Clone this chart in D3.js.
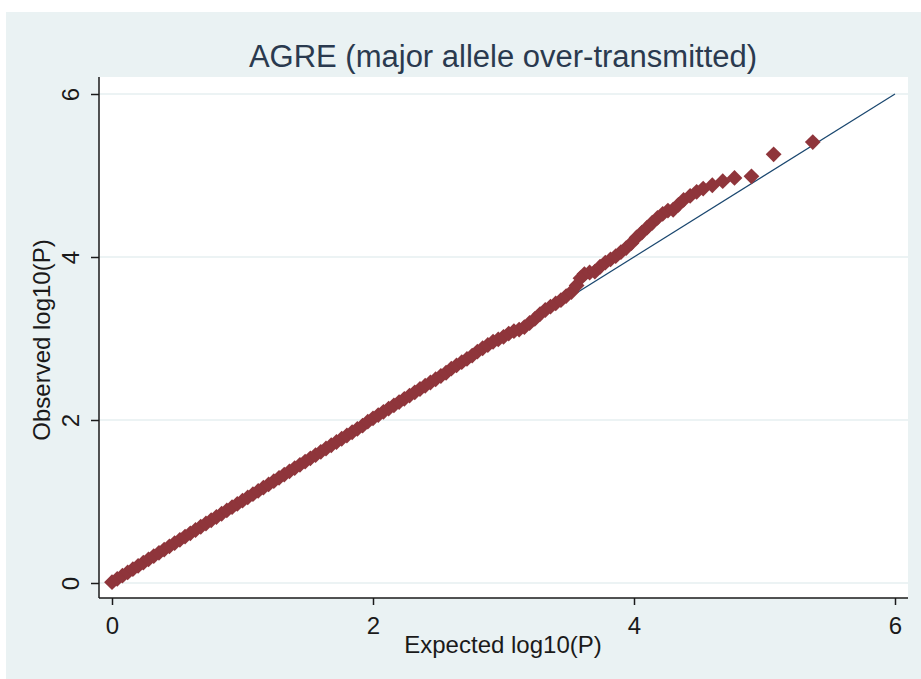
<!DOCTYPE html>
<html>
<head>
<meta charset="utf-8">
<script src="https://cdn.jsdelivr.net/npm/d3@7"></script>
<style>
  body { margin: 0; background: #fff; }
  text { font-family: "Liberation Sans", Arial, sans-serif; }
</style>
</head>
<body>
<svg id="chart" width="921" height="679"></svg>
<script>
// QQ values: expected vs observed -log10(P)
const expected = [
  0.00,0.04,0.08,0.12,0.16,0.20,0.24,0.28,0.32,0.36,
  0.40,0.44,0.48,0.52,0.56,0.60,0.64,0.68,0.72,0.76,
  0.80,0.84,0.88,0.92,0.96,1.00,1.04,1.08,1.12,1.16,
  1.20,1.24,1.28,1.32,1.36,1.40,1.44,1.48,1.52,1.56,
  1.60,1.64,1.68,1.72,1.76,1.80,1.84,1.88,1.92,1.96,
  2.00,2.04,2.08,2.12,2.16,2.20,2.24,2.28,2.32,2.36,
  2.40,2.44,2.48,2.52,2.56,2.60,2.64,2.68,2.72,2.76,
  2.80,2.84,2.88,2.92,2.96,3.00,3.04,3.08,3.12,3.16,
  3.20,3.24,3.28,3.32,3.36,3.40,3.44,3.48,3.52,3.56,
  3.59,3.62,3.66,3.70,3.74,3.78,3.82,3.86,3.90,3.94,
  3.98,4.02,4.06,4.10,4.14,4.18,4.22,4.26,4.30,4.34,
  4.38,4.43,4.48,4.53,4.60,4.68,4.77,4.90,5.07,5.37
]
const observed = [
  0.01,0.05,0.09,0.13,0.17,0.21,0.25,0.29,0.33,0.37,
  0.41,0.45,0.49,0.53,0.57,0.61,0.65,0.69,0.73,0.77,
  0.81,0.85,0.89,0.93,0.97,1.01,1.05,1.09,1.13,1.17,
  1.21,1.25,1.29,1.33,1.37,1.41,1.45,1.49,1.53,1.57,
  1.61,1.65,1.69,1.73,1.77,1.81,1.85,1.89,1.93,1.98,
  2.02,2.06,2.10,2.14,2.18,2.22,2.26,2.30,2.34,2.38,
  2.42,2.46,2.50,2.54,2.58,2.63,2.67,2.71,2.75,2.79,
  2.84,2.88,2.92,2.96,2.99,3.02,3.06,3.09,3.11,3.14,
  3.19,3.24,3.30,3.35,3.39,3.43,3.47,3.52,3.57,3.65,
  3.74,3.79,3.81,3.82,3.88,3.93,3.97,4.01,4.06,4.11,
  4.17,4.24,4.30,4.36,4.42,4.48,4.53,4.57,4.58,4.64,
  4.70,4.75,4.80,4.84,4.88,4.93,4.97,4.99,5.26,5.41
]
const refLine = [0, 6]          // y = x reference line end points
const tickValues = [0, 2, 4, 6]

const data = expected.map((e, i) => ({ e: e, o: observed[i] }))

const svg = d3.select('#chart')

// plot box
const boxLeft = 99, boxRight = 908, boxTop = 77, boxBottom = 598

const xScale = d3.scaleLinear()
                 .domain([0, 6])
                 .range([112, 895])

const yScale = d3.scaleLinear()
                 .domain([0, 6])
                 .range([583, 94])

// backgrounds
svg.append('rect')
   .attr('x', 6).attr('y', 12)
   .attr('width', 915).attr('height', 667)
   .style('fill', '#eaf2f3')

svg.append('rect')
   .attr('x', boxLeft).attr('y', boxTop)
   .attr('width', boxRight - boxLeft).attr('height', boxBottom - boxTop)
   .style('fill', '#ffffff')

// horizontal grid lines
svg.append('g')
   .selectAll('line')
   .data(tickValues)
   .enter()
   .append('line')
   .attr('x1', boxLeft).attr('x2', boxRight)
   .attr('y1', d => yScale(d)).attr('y2', d => yScale(d))
   .style('stroke', '#e6eff1')
   .style('stroke-width', 1.5)

// reference line
const line = d3.line()
               .x(d => xScale(d))
               .y(d => yScale(d))

svg.append('path')
   .datum(refLine)
   .attr('d', line)
   .style('fill', 'none')
   .style('stroke', '#1a476f')
   .style('stroke-width', 1.2)

// diamonds
const diamond = d3.symbol().type(d3.symbolSquare).size(125)

svg.append('g')
   .selectAll('path')
   .data(data)
   .enter()
   .append('path')
   .attr('d', diamond)
   .attr('transform', d => `translate(${xScale(d.e)},${yScale(d.o)}) rotate(45)`)
   .style('fill', '#8f353b')

// X axis
const xAxis = d3.axisBottom(xScale)
                .tickValues(tickValues)
                .tickSize(7)
                .tickPadding(12)
                .tickFormat(d3.format('d'))

const xAxisLine = svg.append('g')
                     .attr('transform', `translate(0,${boxBottom})`)
                     .call(xAxis)
xAxisLine.select('.domain').remove()
xAxisLine.selectAll('line').style('stroke', '#1a1a1a').style('stroke-width', 1.5)
xAxisLine.selectAll('text')
         .style('font-size', '24px')
         .style('fill', '#1a1a1a')

// Y axis
const yAxis = d3.axisLeft(yScale)
                .tickValues(tickValues)
                .tickSize(8)
                .tickFormat(d3.format('d'))

const yAxisLine = svg.append('g')
                     .attr('transform', `translate(${boxLeft},0)`)
                     .call(yAxis)
yAxisLine.select('.domain').remove()
yAxisLine.selectAll('line').style('stroke', '#1a1a1a').style('stroke-width', 1.5)
yAxisLine.selectAll('text')
         .attr('x', 0).attr('dy', 0)
         .attr('transform', 'translate(-20,0) rotate(-90)')
         .style('text-anchor', 'middle')
         .style('font-size', '24px')
         .style('fill', '#1a1a1a')

// axis lines along the plot box
svg.append('line')
   .attr('x1', boxLeft).attr('x2', boxRight)
   .attr('y1', boxBottom).attr('y2', boxBottom)
   .style('stroke', '#1a1a1a').style('stroke-width', 1.5)

svg.append('line')
   .attr('x1', boxLeft).attr('x2', boxLeft)
   .attr('y1', boxTop).attr('y2', boxBottom)
   .style('stroke', '#1a1a1a').style('stroke-width', 1.5)

// titles
svg.append('text')
   .attr('x', 503).attr('y', 67)
   .style('text-anchor', 'middle')
   .style('font-size', '31px')
   .style('fill', '#2a3a4f')
   .text('AGRE (major allele over-transmitted)')

svg.append('text')
   .attr('x', 503).attr('y', 653)
   .style('text-anchor', 'middle')
   .style('font-size', '24px')
   .style('fill', '#1a1a1a')
   .text('Expected log10(P)')

svg.append('text')
   .attr('transform', 'translate(50,340) rotate(-90)')
   .style('text-anchor', 'middle')
   .style('font-size', '24px')
   .style('fill', '#1a1a1a')
   .text('Observed log10(P)')
</script>
</body>
</html>
